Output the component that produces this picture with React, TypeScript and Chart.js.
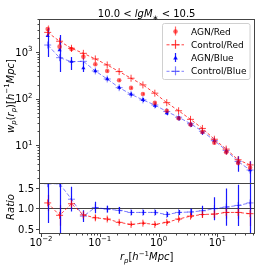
import React, { useEffect, useRef } from "react";
import { Chart, registerables } from "chart.js";
Chart.register(...registerables);

// ---- data ----
const rp = [0.0130, 0.0207, 0.0330, 0.0526, 0.0839, 0.1337, 0.2133, 0.340, 0.541, 0.863, 1.375, 2.19, 3.49, 5.56, 8.87, 14.1, 22.5, 35.9];

const agnRed = [3100, 1300, 1160, 790, 545, 390, 247, 170, 126, 81, 55, 38, 27.8, 19.4, 11.4, 7.1, 4.2, 3.3];
const agnRedErr = [600, 280, 140, 120, 30, 22, 14, 10, 7, 5, 4, 3, 2, 1.5, 1, 0.8, 0.6, 0.8];

const controlRed = [2630, 1700, 1200, 935, 710, 527, 380, 274, 197, 131, 82, 55, 36, 23, 13.5, 8.3, 4.9, 3.8];

const agnBlue = [2230, 1100, 620, 450, 392, 264, 172, 124, 94, 71, 49, 38, 27.8, 19, 12.5, 7.4, 4.3, 2.95];
const agnBlueErrLo = [1450, 727, 210, 77, 30, 20, 15, 12, 9, 7, 5, 4, 3, 2.2, 1.5, 1.0, 1.6, 2.5];
const agnBlueErrHi = [1040, 1210, 160, 160, 30, 20, 15, 12, 9, 7, 5, 4, 3, 2.2, 1.5, 1.0, 1.5, 1.6];

const controlBlue = [1410, 755, 620, 630, 392, 264, 172, 124, 94, 73, 53, 40, 29, 20, 12.6, 7.8, 4.5, 2.95];

const ratioRed = [1.13, 0.83, 1.11, 0.84, 0.77, 0.74, 0.66, 0.61, 0.64, 0.61, 0.66, 0.74, 0.81, 0.85, 0.86, 0.90, 0.90, 0.87];
const ratioRedErr = [0.2, 0.25, 0.12, 0.08, 0.06, 0.05, 0.04, 0.04, 0.04, 0.04, 0.04, 0.04, 0.05, 0.08, 0.1, 0.15, 0.15, 0.3];

const ratioBlue = [1.595, 1.595, 1.22, 0.81, 1.02, 0.98, 0.95, 0.90, 0.90, 0.90, 0.85, 0.90, 0.91, 0.94, 0.99, 1.03, 1.07, 1.13];
const ratioBlueErr = [0.95, 1.2, 0.3, 0.14, 0.14, 0.08, 0.08, 0.06, 0.06, 0.06, 0.06, 0.06, 0.08, 0.12, 0.28, 0.45, 0.5, 0.8];

const xMajorTicks = [0.01, 0.1, 1, 10];
const xTickExp = ["\u22122", "\u22121", "0", "1"];
const yMajorTicks = [10, 100, 1000];
const yTickExp = ["1", "2", "3"];
const ratioTicks = [0.5, 1.0, 1.5];
const ratioTickLabels = ["0.5", "1.0", "1.5"];
const legendLabels = ["AGN/Red", "Control/Red", "AGN/Blue", "Control/Blue"];

// ---- styles ----
const RED_PT = "rgba(255,0,0,0.6)";
const RED_LN = "rgba(255,0,0,0.75)";
const BLUE_PT = "rgba(0,0,255,0.9)";
const BLUE_LN = "rgba(0,0,255,0.5)";
const FONT = '"DejaVu Sans"';
const AXIS = "#444";

type Seg = { t: string; it?: boolean; sub?: boolean; sup?: boolean };

function segFont(s: Seg, size: number) {
  const sz = s.sub || s.sup ? size * 0.7 : size;
  return `${s.it ? "italic " : ""}${sz}px ${FONT}`;
}
function richWidth(ctx: CanvasRenderingContext2D, segs: Seg[], size: number) {
  let w = 0;
  for (const s of segs) {
    ctx.font = segFont(s, size);
    w += ctx.measureText(s.t).width;
  }
  return w;
}
function drawRich(
  ctx: CanvasRenderingContext2D,
  segs: Seg[],
  x: number,
  y: number,
  size: number,
  align: "left" | "center" | "right",
  rot = 0,
  color = "#000"
) {
  ctx.save();
  ctx.translate(x, y);
  ctx.rotate(rot);
  const w = richWidth(ctx, segs, size);
  let cx = align === "center" ? -w / 2 : align === "right" ? -w : 0;
  ctx.fillStyle = color;
  ctx.textBaseline = "alphabetic";
  ctx.textAlign = "left";
  for (const s of segs) {
    ctx.font = segFont(s, size);
    const dy = s.sub ? size * 0.25 : s.sup ? -size * 0.42 : 0;
    ctx.fillText(s.t, cx, dy);
    cx += ctx.measureText(s.t).width;
  }
  ctx.restore();
}

function drawTriangle(ctx: CanvasRenderingContext2D, x: number, y: number, r: number, color: string) {
  ctx.beginPath();
  ctx.moveTo(x, y - r);
  ctx.lineTo(x + r * 0.9, y + r * 0.6);
  ctx.lineTo(x - r * 0.9, y + r * 0.6);
  ctx.closePath();
  ctx.fillStyle = color;
  ctx.fill();
}

const errorSpecs = [
  { ds: 0, axis: "y", lo: agnRedErr, hi: agnRedErr, color: RED_PT },
  { ds: 2, axis: "y", lo: agnBlueErrLo, hi: agnBlueErrHi, color: BLUE_PT },
  { ds: 4, axis: "y2", lo: ratioRedErr, hi: ratioRedErr, color: RED_LN },
  { ds: 5, axis: "y2", lo: ratioBlueErr, hi: ratioBlueErr, color: BLUE_PT },
];

const decorPlugin = {
  id: "decor",
  beforeDatasetsDraw(chart: any) {
    const ctx: CanvasRenderingContext2D = chart.ctx;
    const xs = chart.scales.x;
    const area = chart.chartArea;
    // ratio = 1 line
    const y2 = chart.scales.y2;
    ctx.save();
    ctx.strokeStyle = AXIS;
    ctx.lineWidth = 1;
    const y1p = Math.round(y2.getPixelForValue(1.0)) + 0.5;
    ctx.beginPath();
    ctx.moveTo(area.left, y1p);
    ctx.lineTo(area.right, y1p);
    ctx.stroke();
    ctx.restore();
    // error bars
    for (const spec of errorSpecs) {
      const ys = chart.scales[spec.axis];
      const data = chart.data.datasets[spec.ds].data as { x: number; y: number }[];
      ctx.save();
      ctx.beginPath();
      ctx.rect(area.left, ys.top, area.right - area.left, ys.bottom - ys.top);
      ctx.clip();
      ctx.strokeStyle = spec.color;
      ctx.lineWidth = 1.2;
      data.forEach((p, i) => {
        const px = Math.round(xs.getPixelForValue(p.x)) + 0.5;
        const lov = Math.max(p.y - spec.lo[i], ys.min * 0.5);
        const hiv = p.y + spec.hi[i];
        ctx.beginPath();
        ctx.moveTo(px, ys.getPixelForValue(lov));
        ctx.lineTo(px, ys.getPixelForValue(hiv));
        ctx.stroke();
      });
      ctx.restore();
    }
  },
  afterDraw(chart: any) {
    const ctx: CanvasRenderingContext2D = chart.ctx;
    const xs = chart.scales.x;
    const ys = chart.scales.y;
    const y2 = chart.scales.y2;
    const L = chart.chartArea.left;
    const R = chart.chartArea.right;
    ctx.save();
    ctx.strokeStyle = AXIS;
    ctx.lineWidth = 1;
    // frames
    ctx.strokeRect(Math.round(L) + 0.5, Math.round(ys.top) + 0.5, Math.round(R - L), Math.round(ys.bottom - ys.top));
    ctx.strokeRect(Math.round(L) + 0.5, Math.round(y2.top) + 0.5, Math.round(R - L), Math.round(y2.bottom - y2.top));

    // y main ticks
    const lx = Math.round(L) + 0.5;
    for (let e = 0; e <= 3; e++) {
      for (let m = 1; m <= 9; m++) {
        const v = m * Math.pow(10, e);
        if (v < ys.min || v > ys.max) continue;
        const py = Math.round(ys.getPixelForValue(v)) + 0.5;
        const len = m === 1 ? 3.5 : 2;
        ctx.beginPath();
        ctx.moveTo(lx, py);
        ctx.lineTo(lx - len, py);
        ctx.stroke();
      }
    }
    yMajorTicks.forEach((v, i) => {
      const py = ys.getPixelForValue(v);
      drawRich(ctx, [{ t: "10" }, { t: yTickExp[i], sup: true }], L - 6.5, py + 3.6, 10, "right");
    });
    // ratio ticks
    ratioTicks.forEach((v, i) => {
      const py = Math.round(y2.getPixelForValue(v)) + 0.5;
      ctx.beginPath();
      ctx.moveTo(lx, py);
      ctx.lineTo(lx - 3.5, py);
      ctx.stroke();
      drawRich(ctx, [{ t: ratioTickLabels[i] }], L - 5, py + 3.6, 10, "right");
    });
    // x ticks
    const by = Math.round(y2.bottom) + 0.5;
    for (let e = -3; e <= 1; e++) {
      for (let m = 1; m <= 9; m++) {
        const v = m * Math.pow(10, e);
        if (v < xs.min || v > xs.max) continue;
        const px = Math.round(xs.getPixelForValue(v)) + 0.5;
        const len = m === 1 ? 3.5 : 2;
        ctx.beginPath();
        ctx.moveTo(px, by);
        ctx.lineTo(px, by + len);
        ctx.stroke();
      }
    }
    xMajorTicks.forEach((v, i) => {
      const px = xs.getPixelForValue(v);
      drawRich(ctx, [{ t: "10" }, { t: xTickExp[i], sup: true }], px, 245.5, 10, "center");
    });
    ctx.restore();

    // title
    drawRich(
      ctx,
      [{ t: "10.0 < " }, { t: "lgM", it: true }, { t: "\u2217", sub: true }, { t: " < 10.5" }],
      (L + R) / 2,
      17,
      10,
      "center"
    );
    // x label
    drawRich(
      ctx,
      [{ t: "r", it: true }, { t: "p", it: true, sub: true }, { t: "[" }, { t: "h", it: true }, { t: "\u22121", sup: true }, { t: "Mpc", it: true }, { t: "]" }],
      (L + R) / 2,
      260,
      10,
      "center"
    );
    // y label
    drawRich(
      ctx,
      [
        { t: "w", it: true },
        { t: "p", it: true, sub: true },
        { t: "(" },
        { t: "r", it: true },
        { t: "p", it: true, sub: true },
        { t: ")[" },
        { t: "h", it: true },
        { t: "\u22121", sup: true },
        { t: "Mpc", it: true },
        { t: "]" },
      ],
      13.5,
      96,
      10,
      "center",
      -Math.PI / 2
    );
    drawRich(ctx, [{ t: "Ratio", it: true }], 13.5, 207, 10, "center", -Math.PI / 2);

    // legend
    ctx.save();
    const bx = 162.5, byy = 23.5, bw = 87.5, bh = 56;
    ctx.beginPath();
    const r = 2;
    ctx.moveTo(bx + r, byy);
    ctx.arcTo(bx + bw, byy, bx + bw, byy + bh, r);
    ctx.arcTo(bx + bw, byy + bh, bx, byy + bh, r);
    ctx.arcTo(bx, byy + bh, bx, byy, r);
    ctx.arcTo(bx, byy, bx + bw, byy, r);
    ctx.closePath();
    ctx.fillStyle = "rgba(255,255,255,0.8)";
    ctx.fill();
    ctx.strokeStyle = "#d0d0d0";
    ctx.lineWidth = 1;
    ctx.stroke();
    const rows = [31, 44.3, 57.5, 70.8];
    const hx = 175;
    rows.forEach((ry, i) => {
      const isRed = i < 2;
      const isCtrl = i % 2 === 1;
      const col = isRed ? (isCtrl ? RED_LN : RED_PT) : isCtrl ? BLUE_LN : BLUE_PT;
      ctx.strokeStyle = col;
      ctx.lineWidth = 1.2;
      ctx.setLineDash([]);
      ctx.beginPath();
      ctx.moveTo(hx + 0.5, ry - 4.5);
      ctx.lineTo(hx + 0.5, ry + 4.5);
      ctx.stroke();
      if (isCtrl) {
        ctx.lineWidth = 1;
        ctx.setLineDash([3, 2]);
        ctx.beginPath();
        ctx.moveTo(166.5, ry + 0.5);
        ctx.lineTo(184, ry + 0.5);
        ctx.stroke();
        ctx.setLineDash([]);
        ctx.beginPath();
        ctx.moveTo(hx - 3.5, ry + 0.5);
        ctx.lineTo(hx + 4.5, ry + 0.5);
        ctx.stroke();
      } else if (isRed) {
        ctx.fillStyle = col;
        ctx.beginPath();
        ctx.arc(hx + 0.5, ry + 0.5, 2.3, 0, Math.PI * 2);
        ctx.fill();
      } else {
        drawTriangle(ctx, hx + 0.5, ry + 0.5, 2.6, col);
      }
      drawRich(ctx, [{ t: legendLabels[i] }], 191, ry + 3.5, 9, "left");
    });
    ctx.restore();
  },
};

function pts(vals: number[]) {
  return vals.map((v, i) => ({ x: rp[i], y: v }));
}

export default function App() {
  const ref = useRef<HTMLCanvasElement | null>(null);
  useEffect(() => {
    if (!ref.current) return;
    const chart = new Chart(ref.current, {
      type: "line",
      data: {
        datasets: [
          {
            label: legendLabels[0],
            data: pts(agnRed),
            yAxisID: "y",
            showLine: false,
            pointStyle: "circle",
            pointRadius: 2.3,
            pointBackgroundColor: RED_PT,
            pointBorderWidth: 0,
            borderColor: RED_PT,
          },
          {
            label: legendLabels[1],
            data: pts(controlRed),
            yAxisID: "y",
            borderColor: RED_LN,
            borderWidth: 1,
            borderDash: [3, 2],
            pointStyle: "cross",
            pointRadius: 3.5,
            pointBorderColor: RED_LN,
            pointBorderWidth: 1,
          },
          {
            label: legendLabels[2],
            data: pts(agnBlue),
            yAxisID: "y",
            showLine: false,
            pointStyle: "triangle",
            pointRadius: 2.4,
            pointBackgroundColor: BLUE_PT,
            pointBorderColor: BLUE_PT,
            pointBorderWidth: 0,
            borderColor: BLUE_PT,
          },
          {
            label: legendLabels[3],
            data: pts(controlBlue),
            yAxisID: "y",
            borderColor: BLUE_LN,
            borderWidth: 1,
            borderDash: [4, 2],
            pointStyle: "cross",
            pointRadius: 3.5,
            pointBorderColor: BLUE_LN,
            pointBorderWidth: 1,
          },
          {
            label: "ratioRed",
            data: pts(ratioRed),
            yAxisID: "y2",
            borderColor: RED_LN,
            borderWidth: 1,
            borderDash: [3, 2],
            pointStyle: "cross",
            pointRadius: 3.5,
            pointBorderColor: RED_LN,
            pointBorderWidth: 1,
          },
          {
            label: "ratioBlue",
            data: pts(ratioBlue),
            yAxisID: "y2",
            borderColor: BLUE_LN,
            borderWidth: 1,
            borderDash: [4, 2],
            pointStyle: "cross",
            pointRadius: 3.5,
            pointBorderColor: BLUE_LN,
            pointBorderWidth: 1,
          },
        ],
      },
      options: {
        animation: false,
        responsive: false,
        devicePixelRatio: 1,
        layout: { padding: { left: 39, right: 19.7, top: 19, bottom: 40.7 } },
        plugins: { legend: { display: false }, tooltip: { enabled: false }, title: { display: false } },
        scales: {
          x: { type: "logarithmic", min: 0.00925, max: 42.4, display: false },
          y: {
            type: "logarithmic",
            min: 1.535,
            max: 5090,
            display: false,
            position: "left",
            stack: "panels",
            stackWeight: 164.3,
            weight: 2,
          },
          y2: {
            type: "linear",
            min: 0.395,
            max: 1.605,
            display: false,
            position: "left",
            stack: "panels",
            stackWeight: 50,
            weight: 1,
          },
        },
      } as any,
      plugins: [decorPlugin],
    });
    return () => chart.destroy();
  }, []);
  return (
    <div style={{ position: "fixed", left: 0, top: 0, width: 274, height: 274, background: "#fff" }}>
      <canvas ref={ref} width={274} height={274} style={{ display: "block" }} />
    </div>
  );
}
